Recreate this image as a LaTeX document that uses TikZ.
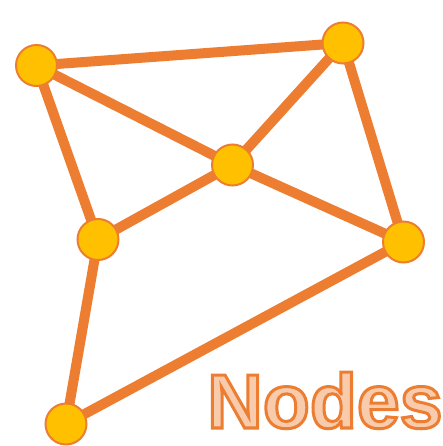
\documentclass[tikz,border=0pt]{standalone}
\usepackage{fontspec}
\newfontfamily\labelfont{Liberation Sans}
\definecolor{edgeor}{HTML}{ED7D31}
\definecolor{nodefill}{HTML}{FFC000}
\definecolor{textfill}{HTML}{F8CBAD}
\begin{document}
\begin{tikzpicture}[x=1pt,y=-1pt,
  vert/.style={circle,fill=nodefill,draw=edgeor,line width=2pt,minimum size=41pt,inner sep=0pt},
  link/.style={draw=edgeor,line width=10pt},
  title/.style={font=\labelfont\bfseries\fontsize{77}{77}\selectfont,anchor=base west,inner sep=0pt}]
\useasboundingbox (0,0) rectangle (443,446);
\coordinate (pa) at (36.5,65.5);
\coordinate (pb) at (343,43);
\coordinate (pc) at (232.5,165);
\coordinate (pd) at (98,239.5);
\coordinate (pe) at (403.5,242);
\coordinate (pf) at (66,424);
\draw[link] (pa) -- (pb);
\draw[link] (pa) -- (pc);
\draw[link] (pa) -- (pd);
\draw[link] (pb) -- (pc);
\draw[link] (pb) -- (pe);
\draw[link] (pc) -- (pd);
\draw[link] (pc) -- (pe);
\draw[link] (pd) -- (pf);
\draw[link] (pf) -- (pe);
\node[vert] (a) at (pa) {};
\node[vert] (b) at (pb) {};
\node[vert] (c) at (pc) {};
\node[vert] (d) at (pd) {};
\node[vert] (e) at (pe) {};
\node[vert] (f) at (pf) {};
\node[title] (t) at (207,428) {\textcolor{textfill}{\special{pdf:literal 2 Tr 3 w 0.929 0.490 0.192 RG}Nodes\special{pdf:literal 0 Tr}}};
\end{tikzpicture}
\end{document}
